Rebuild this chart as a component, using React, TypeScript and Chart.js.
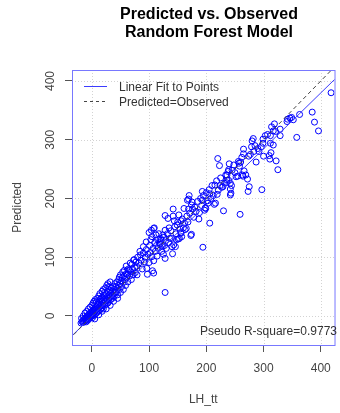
import React, { useEffect, useRef } from 'react';
import { Chart, registerables } from 'chart.js';

Chart.register(...registerables);

const FONT = "'Liberation Sans', Arial, Helvetica, sans-serif";

const titleLines = ['Predicted vs. Observed', 'Random Forest Model'];
const xAxisTitle = 'LH_tt';
const yAxisTitle = 'Predicted';
const legendLabels = ['Linear Fit to Points', 'Predicted=Observed'];
const rSquareLabel = 'Pseudo R-square=0.9773';

const xTicks = [0, 100, 200, 300, 400];
const yTicks = [0, 100, 200, 300, 400];
const xRange = [-34.7, 424];
const yRange = [-49.4, 418.7];

const fitIntercept = -0.7;
const fitSlope = 0.951;

const observed = [
  -19, -17, -16, -15, -14, -13, -12, -11, -10, -10, -9, -8, -8, -7, -6, -6, -5, -4, -4, -3, -2, -2, -1, 0, 0, 1, 1, 2, 2, 3, 4, 4, 5, 6, 6, 7, 8, 8, 9, 10, 10,
  -18, -15, -12, -9, -6, -3, 0, 2, 4, 6, 8, 10, 12, 14, 16, 18, 20, 22, 24, 26, 28, 30, 32, 5, 12, 18, 25, 32, 38, 45,
  11, 12, 12, 13, 14, 15, 15, 16, 17, 18, 18, 19, 20, 20, 21, 22, 22, 23, 24, 25, 25, 26, 27, 28, 28, 29, 30, 30, 31, 32, 33, 33, 34, 35, 36, 36, 37, 38, 39, 40, 40,
  41, 42, 43, 44, 45, 45, 46, 47, 48, 48, 49, 50, 50, 51, 52, 53, 54, 55, 55, 56, 57, 58, 59, 60, 60, 61, 62, 63, 64, 65, 66, 67, 68, 69, 70, 71, 72, 73, 74, 75, 76, 77, 78, 79, 80,
  82, 84, 85, 86, 88, 90, 90, 92, 93, 95, 95, 96, 97, 98, 100, 100, 101, 102, 103, 104, 105, 105, 106, 107, 108, 108, 108, 109, 110, 111, 112, 113, 114, 115, 116, 117, 118, 119, 120, 121, 122, 123, 124, 125, 126, 127, 128, 128, 128, 128, 129, 130,
  132, 133, 134, 135, 136, 138, 139, 140, 141, 142, 142, 143, 144, 145, 146, 147, 148, 149, 150, 151, 152, 153, 154, 155, 156, 156, 157, 158, 160, 161, 162, 163, 165, 166, 167, 168, 169, 169, 170, 171, 173, 174, 174, 175, 176, 178, 180,
  182, 185, 187, 188, 190, 192, 193, 193, 194, 195, 197, 198, 199, 200, 202, 203, 205, 206, 206, 208, 210, 212, 214, 215, 216, 218, 219, 220, 221, 223, 224, 225, 227, 229, 230, 232, 234, 235, 236, 236, 238, 239, 239, 240,
  242, 242, 242, 243, 244, 245, 248, 250, 252, 255, 256, 257, 258, 259, 260, 262, 263, 264, 265, 265, 266, 269, 272, 273, 274, 275, 277, 279, 280, 282, 283, 285, 287, 290, 292, 296, 297, 299, 299, 300,
  303, 307, 310, 311, 312, 312, 313, 314, 317, 317, 319, 321, 322, 325, 329, 329, 341, 342, 346, 349, 352, 358, 363, 385, 389, 396, 418,
];

const predicted = [
  -12, -10, -8, -11, -6, -9, -4, -7, -10, -2, -5, -8, 0, -3, -6, 2, -1, -4, 4, 1, -2, 6, 3, 0, 8, -3, 5, 2, 10, 6, 1, 12, 8, 3, 14, 10, 5, 16, 12, 7, 18,
  -4, 0, 5, 8, 12, 15, 18, 22, 25, 28, 24, 30, 34, 38, 30, 42, 45, 40, 48, 52, 55, 50, 58, -5, 2, 8, 12, 18, 25, 30,
  14, 20, 9, 24, 16, 11, 28, 20, 14, 25, 32, 18, 22, 12, 28, 35, 18, 25, 30, 20, 38, 27, 33, 22, 42, 30, 36, 25, 44, 32, 28, 39, 48, 35, 30, 42, 50, 38, 33, 45, 55,
  40, 50, 41, 58, 47, 36, 52, 62, 45, 66, 55, 40, 70, 60, 50, 65, 75, 57, 45, 68, 78, 62, 52, 72, 85, 65, 71, 58, 80, 78, 68, 90, 75, 62, 88, 80, 70, 95, 96, 82, 74, 92, 85, 70, 100,
  90, 110, 104, 95, 80, 107, 118, 92, 100, 126, 113, 81, 71, 105, 91, 142, 120, 108, 130, 146, 101, 135, 77, 115, 73, 94, 149, 150, 125, 110, 138, 120, 102, 130, 115, 140, 125, 122, 132, 129, 110, 118, 138, 105, 134, 120, 98, 146, 171, 40, 128, 115,
  140, 166, 125, 150, 132, 145, 132, 118, 106, 182, 170, 121, 162, 152, 118, 140, 130, 155, 160, 131, 172, 132, 148, 142, 141, 162, 135, 165, 150, 183, 158, 147, 149, 170, 197, 160, 182, 199, 205, 175, 137, 189, 139, 194, 182, 168, 185,
  178, 195, 165, 176, 200, 188, 212, 197, 117, 205, 180, 184, 183, 210, 196, 192, 215, 158, 208, 200, 222, 205, 190, 223, 192, 230, 207, 268, 214, 256, 222, 235, 219, 220, 179, 226, 240, 227, 231, 240, 246, 249, 231, 259,
  226, 216, 206, 209, 222, 248, 257, 244, 237, 238, 263, 260, 255, 173, 262, 270, 240, 238, 284, 276, 247, 240, 233, 212, 272, 220, 275, 288, 298, 302, 280, 290, 262, 285, 280, 288, 215, 294, 301, 272,
  307, 309, 273, 267, 294, 307, 278, 322, 315, 291, 327, 314, 264, 249, 318, 307, 331, 335, 337, 338, 334, 304, 343, 347, 330, 315, 380,
];

const decorPlugin = {
  id: 'rDecor',
  beforeDatasetsDraw(chart: any) {
    const { ctx, chartArea: a } = chart;
    const xs = chart.scales.x;
    const ys = chart.scales.y;
    ctx.save();
    ctx.strokeStyle = '#d3d3d3';
    ctx.lineWidth = 1;
    ctx.setLineDash([1, 2]);
    ctx.beginPath();
    xTicks.forEach((v) => {
      const p = Math.round(xs.getPixelForValue(v)) + 0.5;
      ctx.moveTo(p, a.top);
      ctx.lineTo(p, a.bottom);
    });
    yTicks.forEach((v) => {
      const p = Math.round(ys.getPixelForValue(v)) + 0.5;
      ctx.moveTo(a.left, p);
      ctx.lineTo(a.right, p);
    });
    ctx.stroke();
    ctx.restore();
  },
  afterDraw(chart: any) {
    const { ctx, chartArea: a } = chart;
    ctx.save();
    ctx.setLineDash([]);
    ctx.strokeStyle = '#7878ff';
    ctx.lineWidth = 1;
    ctx.strokeRect(a.left + 0.5, a.top + 0.5, a.right - a.left, a.bottom - a.top);

    // title
    ctx.fillStyle = '#000';
    ctx.font = `bold 16px ${FONT}`;
    ctx.textAlign = 'center';
    ctx.textBaseline = 'alphabetic';
    ctx.fillText(titleLines[0], 209, 18.5);
    ctx.fillText(titleLines[1], 209, 36.8);

    // legend
    ctx.strokeStyle = '#3c3cff';
    ctx.beginPath();
    ctx.moveTo(84, 86.5);
    ctx.lineTo(107, 86.5);
    ctx.stroke();
    ctx.strokeStyle = '#444';
    ctx.setLineDash([3, 3]);
    ctx.beginPath();
    ctx.moveTo(84, 101.5);
    ctx.lineTo(107, 101.5);
    ctx.stroke();
    ctx.setLineDash([]);
    ctx.fillStyle = '#333';
    ctx.font = `12px ${FONT}`;
    ctx.textAlign = 'left';
    ctx.fillText(legendLabels[0], 119, 91);
    ctx.fillText(legendLabels[1], 119, 106);

    // r-square
    ctx.textAlign = 'right';
    ctx.fillText(rSquareLabel, 337, 335);
    ctx.restore();
  },
};

export default function App() {
  const ref = useRef<HTMLCanvasElement | null>(null);
  useEffect(() => {
    if (!ref.current) return;
    const lo = -100;
    const hi = 500;
    const chart = new Chart(ref.current, {
      type: 'scatter',
      data: {
        datasets: [
          {
            label: legendLabels[1],
            data: [{ x: lo, y: lo }, { x: hi, y: hi }],
            showLine: true,
            borderColor: '#444',
            borderWidth: 1,
            borderDash: [4, 3],
            pointRadius: 0,
            pointHoverRadius: 0,
          },
          {
            label: legendLabels[0],
            data: [
              { x: lo, y: fitIntercept + fitSlope * lo },
              { x: hi, y: fitIntercept + fitSlope * hi },
            ],
            showLine: true,
            borderColor: '#3c3cff',
            borderWidth: 1,
            pointRadius: 0,
            pointHoverRadius: 0,
          },
          {
            label: 'points',
            data: observed.map((o, i) => ({ x: o, y: predicted[i] })),
            pointRadius: 3,
            pointHoverRadius: 3,
            borderColor: '#0000ff',
            backgroundColor: 'rgba(0,0,0,0)',
            borderWidth: 1,
          },
        ],
      },
      options: {
        animation: false,
        responsive: false,
        events: [],
        layout: { padding: { top: 70, left: 0, right: 0, bottom: 0 } },
        plugins: {
          legend: { display: false },
          tooltip: { enabled: false },
          title: { display: false },
        },
        scales: {
          x: {
            type: 'linear',
            min: xRange[0],
            max: xRange[1],
            afterBuildTicks: (s: any) => {
              s.ticks = xTicks.map((v) => ({ value: v }));
            },
            afterFit: (s: any) => {
              s.height = 68;
            },
            grid: { drawOnChartArea: false, drawTicks: true, tickLength: 7, tickColor: '#555', color: '#555' },
            border: { display: false },
            ticks: {
              padding: 9,
              color: '#444',
              font: { family: FONT, size: 12 },
              maxRotation: 0,
              minRotation: 0,
              autoSkip: false,
            },
            title: {
              display: true,
              text: xAxisTitle,
              color: '#444',
              font: { family: FONT, size: 12 },
              padding: { top: 0, bottom: 6 },
            },
          },
          y: {
            type: 'linear',
            min: yRange[0],
            max: yRange[1],
            afterBuildTicks: (s: any) => {
              s.ticks = yTicks.map((v) => ({ value: v }));
            },
            afterFit: (s: any) => {
              s.width = 72;
            },
            grid: { drawOnChartArea: false, drawTicks: true, tickLength: 7, tickColor: '#555', color: '#555' },
            border: { display: false },
            ticks: {
              padding: 4,
              color: '#444',
              font: { family: FONT, size: 12 },
              minRotation: 90,
              maxRotation: 90,
              crossAlign: 'center',
              autoSkip: false,
            },
            title: {
              display: true,
              text: yAxisTitle,
              color: '#444',
              font: { family: FONT, size: 12 },
              padding: { top: 10, bottom: 0 },
            },
          },
        },
      },
      plugins: [decorPlugin],
    } as any);
    return () => chart.destroy();
  }, []);

  return (
    <div style={{ position: 'absolute', left: 0, top: 0, width: 340, height: 413 }}>
      <canvas ref={ref} width={340} height={413} style={{ width: 340, height: 413 }} />
    </div>
  );
}
